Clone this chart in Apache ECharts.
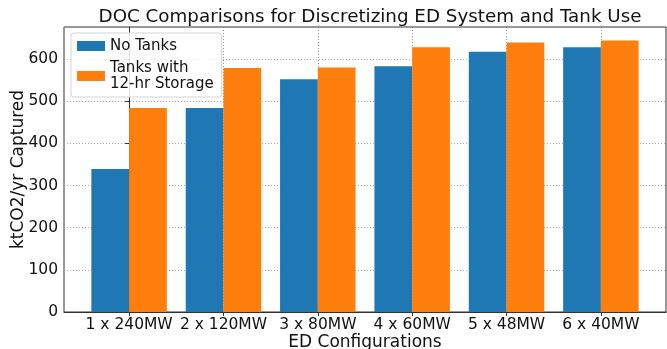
<!DOCTYPE html>
<html><head><meta charset="utf-8">
<script src="https://cdn.jsdelivr.net/npm/echarts@6/dist/echarts.min.js"></script>
<style>html,body{margin:0;padding:0;background:#fff}#c{width:667px;height:349px}</style>
</head><body><div id="c"></div>
<script>
const categories = ['1 x 240MW','2 x 120MW','3 x 80MW','4 x 60MW','5 x 48MW','6 x 40MW'];
const noTanks = [339, 484, 552, 583, 617, 628];
const withTanks = [484, 579, 580, 628, 639, 644];
const seriesNames = ['No Tanks', 'Tanks with\n12-hr Storage'];
const titleText = 'DOC Comparisons for Discretizing ED System and Tank Use';
const xName = 'ED Configurations';
const yName = 'ktCO2/yr Captured';

const FONT = 'DejaVu Sans';
const catIdx = categories.map((c, i) => i);
const chart = echarts.init(document.getElementById('c'), null, {renderer: 'canvas'});
chart.setOption({
  animation: false,
  textStyle: {fontFamily: FONT},
  title: {
    text: titleText, left: 365, top: 3, textAlign: 'center',
    textStyle: {fontFamily: FONT, fontSize: 18.3, fontWeight: 'normal', color: '#111'}
  },
  legend: {
    orient: 'vertical', left: 71, top: 33,
    itemWidth: 28, itemHeight: 10, itemGap: 6,
    padding: [5, 8, 5, 6],
    borderColor: '#d5d5d5', borderWidth: 1, borderRadius: 3,
    backgroundColor: 'rgba(255,255,255,0.85)',
    icon: 'rect',
    textStyle: {fontFamily: FONT, fontSize: 15, lineHeight: 16, color: '#111'},
    data: seriesNames
  },
  grid: {
    left: 64, right: 1, top: 27, bottom: 37,
    outerBoundsMode: 'none', containLabel: false,
    show: true, borderColor: '#333', borderWidth: 1, backgroundColor: 'transparent'
  },
  xAxis: {
    type: 'value', min: -0.69, max: 5.69,
    name: xName, nameLocation: 'middle', nameGap: 22, nameMoveOverlap: false,
    nameTextStyle: {fontFamily: FONT, fontSize: 17, color: '#111'},
    axisLine: {show: true, lineStyle: {color: '#333'}},
    axisTick: {show: true, length: 4, customValues: catIdx, lineStyle: {color: '#333'}},
    axisLabel: {customValues: catIdx, fontFamily: FONT, fontSize: 15.5, color: '#111', margin: 5,
      formatter: v => categories[Math.round(v)] || ''},
    splitLine: {show: true, lineStyle: {color: '#777', type: [1, 2], width: 0.8}}
  },
  yAxis: {
    type: 'value', min: 0, max: 676, interval: 100,
    name: yName, nameLocation: 'middle', nameGap: 37, nameMoveOverlap: false,
    nameTextStyle: {fontFamily: FONT, fontSize: 17, color: '#111'},
    axisLine: {show: true, lineStyle: {color: '#333'}},
    axisTick: {show: true, length: 4, lineStyle: {color: '#333'}},
    axisLabel: {fontFamily: FONT, fontSize: 15.5, color: '#111', margin: 6, showMaxLabel: false,
      formatter: v => (v % 100 === 0 ? String(v) : '')},
    splitLine: {show: true, lineStyle: {color: '#999', type: [1, 2], width: 0.8}}
  },
  series: [
    {name: seriesNames[0], type: 'bar', barWidth: '40%', barGap: '0%',
     itemStyle: {color: '#1f77b4'},
     data: noTanks.map((v, i) => [i, v])},
    {name: seriesNames[1], type: 'bar', barWidth: '40%', barGap: '0%',
     itemStyle: {color: '#ff7f0e'},
     data: withTanks.map((v, i) => [i, v])}
  ]
});
</script></body></html>
